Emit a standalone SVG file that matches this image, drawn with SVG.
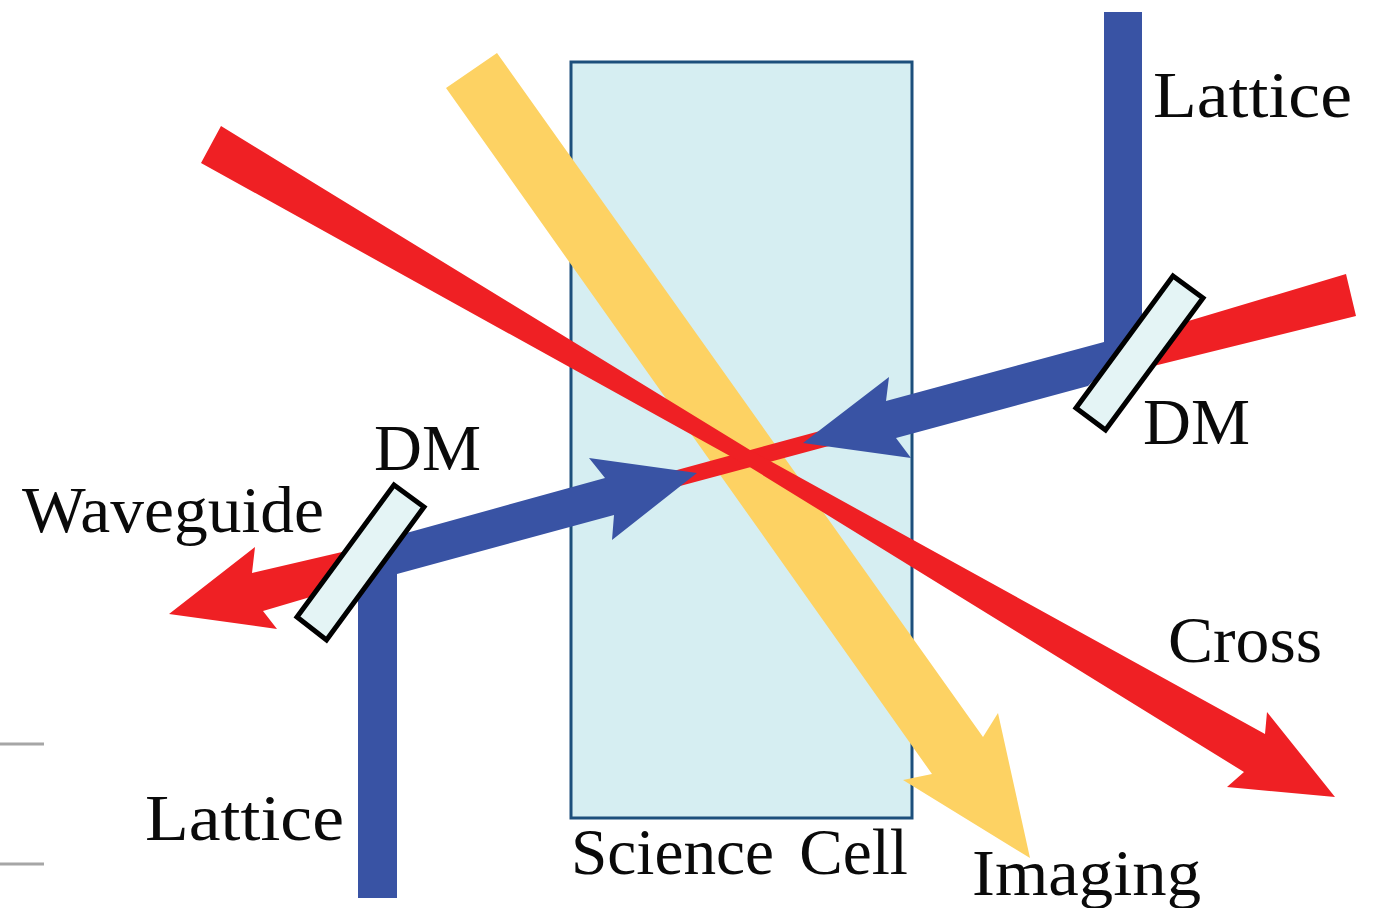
<svg xmlns="http://www.w3.org/2000/svg" width="1383" height="908" viewBox="0 0 1383 908">
<style>
.red{fill:#ef2024}
.blue{fill:#3953a4}
.yellow{fill:#fdd263}
.dm{fill:#e4f4f5;stroke:#000;stroke-width:5;stroke-linejoin:miter}
.t{font-family:"Liberation Serif","Times New Roman",serif;font-size:66px;fill:#0a0a0a}
.tick{stroke:#a6a6a6;stroke-width:3}
</style>
<rect width="1383" height="908" fill="#fff"/>
<g id="ticks"><line class="tick" x1="0" y1="744" x2="44" y2="744"/><line class="tick" x1="0" y1="864" x2="44" y2="864"/></g>
<g id="science-cell"><rect x="571" y="62" width="341" height="756" fill="#d6eef2" stroke="#1c4f7c" stroke-width="3"/>
<text class="t" x="571" y="874" word-spacing="9" textLength="337" lengthAdjust="spacingAndGlyphs">Science Cell</text></g>
<g id="connectors">
<polygon id="imaging-beam" class="yellow" points="446,88 497,53 983,737 998,713 1030,858 903,780 932,774"/>
<polygon id="waveguide-beam" class="red" points="1346,274 820,431 677,470 342,552 252,573 255,547 169,614 277,629 263,611 307,598 680,486 825,447 1356,316"/>
<polygon id="cross-beam" class="red" points="221,126 750,450 1265,734 1267,712 1335,797 1227,787 1244,772 748,466 201,163"/>
<polygon id="lattice-right" class="blue" points="1104,12 1142,12 1142,332 1088,386 896,438 911,458 803,443 889,377 886,401 1104,342"/>
<polygon id="lattice-left" class="blue" points="358,898 397,898 397,574 614,515 612,540 697,473 589,458 605,478 410,532 380,540 358,590"/>
</g>
<g id="dm-right"><polygon class="dm" points="1173,276 1203,298 1105.5,430 1076,408"/>
<text class="t" x="1143" y="444" textLength="107" lengthAdjust="spacingAndGlyphs">DM</text></g>
<g id="dm-left"><polygon class="dm" points="394,485 424,507 326.5,640 297,617"/>
<text class="t" x="374" y="470" textLength="107" lengthAdjust="spacingAndGlyphs">DM</text></g>
<g id="label-lattice-top"><text class="t" x="1153" y="117" textLength="199" lengthAdjust="spacingAndGlyphs">Lattice</text></g>
<g id="label-lattice-bottom"><text class="t" x="145" y="840" textLength="199" lengthAdjust="spacingAndGlyphs">Lattice</text></g>
<g id="label-waveguide"><text class="t" x="22" y="532" textLength="302" lengthAdjust="spacingAndGlyphs">Waveguide</text></g>
<g id="label-cross"><text class="t" x="1168" y="662" textLength="154" lengthAdjust="spacingAndGlyphs">Cross</text></g>
<g id="label-imaging"><text class="t" x="972" y="895" textLength="229" lengthAdjust="spacingAndGlyphs">Imaging</text></g>
</svg>
